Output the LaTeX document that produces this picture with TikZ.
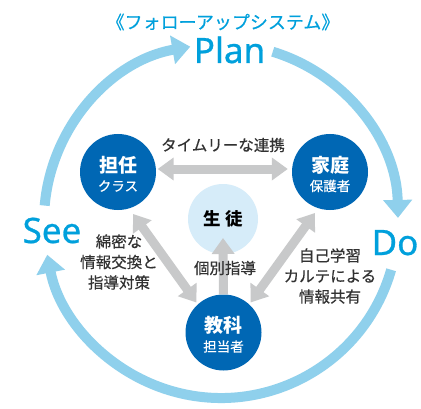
\documentclass[tikz,border=0pt]{standalone}
\usepackage{fontspec}
\setmainfont{Noto Sans}
\newfontfamily\jp{Noto Sans CJK JP}
\newfontfamily\pdcsfont[FakeBold=0.8]{Noto Sans}
\newfontfamily\jpmed[FakeBold=0.4]{Noto Sans CJK JP}
\usetikzlibrary{arrows.meta}
\definecolor{ringC}{RGB}{143,208,236}
\definecolor{cyanT}{RGB}{0,160,220}
\definecolor{darkB}{RGB}{0,103,180}
\definecolor{stuB}{RGB}{214,236,249}
\definecolor{grayA}{RGB}{200,201,202}
\definecolor{txtC}{RGB}{50,50,50}
\tikzset{gtip/.tip={Triangle[length=16pt,width=22pt]},
  rtip/.tip={Triangle[length=18pt,width=28pt]}}
\begin{document}
\begin{tikzpicture}[x=1pt,y=1pt,
  ringarc/.style={draw=ringC,line width=10pt},
  ringhead/.style={-{rtip}},
  darkcirc/.style={circle,fill=darkB,minimum size=76pt,inner sep=0pt},
  stucirc/.style={circle,fill=stuB,minimum size=70pt,inner sep=0pt},
  grayline/.style={draw=grayA,line width=9pt},
  pdcs/.style={text=cyanT,font=\pdcsfont\fontsize{35}{35}\selectfont,anchor=base},
  mainlab/.style={text=white,font=\jp\bfseries\fontsize{19}{19}\selectfont},
  sublab/.style={text=white,font=\jpmed\fontsize{13.5}{13.5}\selectfont},
  note/.style={text=txtC,font=\jpmed\fontsize{15.5}{20.5}\selectfont,align=center}
]
\useasboundingbox (0,0) rectangle (421,408);
\fill[white] (0,0) rectangle (421,408);
\coordinate (C) at (221,187);
% ring
\draw[ringarc,ringhead] ([shift={(-16:177)}]C) arc[start angle=-16,end angle=-169,radius=177];
\draw[ringarc,ringhead] ([shift={(175:177)}]C) arc[start angle=175,end angle=100,radius=177];
\draw[ringarc,ringhead] ([shift={(73:177)}]C) arc[start angle=73,end angle=1,radius=177];
% circles
\node[darkcirc] (t) at (118,236) {};
\node[darkcirc] (h) at (330,236) {};
\node[darkcirc] (k) at (223.5,75.5) {};
\node[stucirc] (s) at (223,189) {};
% gray arrows
\draw[grayline,{gtip}-{gtip}] ([yshift=3pt,xshift=1.5pt]t.east) -- ([yshift=3pt,xshift=-4pt]h.west);
\draw[grayline,{gtip}-{gtip}] ([shift={(15pt,-42pt)}]t.center) -- ([shift={(-27pt,30pt)}]k.center);
\draw[grayline,{gtip}-{gtip}] ([shift={(-15pt,-41pt)}]h.center) -- ([shift={(27pt,30pt)}]k.center);
\draw[grayline,-{gtip}] (k.north) -- ([yshift=-19pt]s.center);
% labels
\node[mainlab] (tm) at ([yshift=7pt]t.center) {担任};
\node[sublab] (ts) at ([yshift=-14pt]t.center) {クラス};
\node[mainlab] (hm) at ([yshift=7pt]h.center) {家庭};
\node[sublab] (hs) at ([yshift=-14pt]h.center) {保護者};
\node[mainlab] (km) at ([yshift=7pt]k.center) {教科};
\node[sublab] (ks) at ([yshift=-14pt]k.center) {担当者};
\node[text=black,font=\jp\bfseries\fontsize{17.5}{17.5}\selectfont] (sm) at (s.center) {生\hspace{5pt}徒};
% texts
\node[text=cyanT,font=\jpmed\fontsize{18}{18}\selectfont] (title) at (223,386) {《フォローアップシステム》};
\node[pdcs] (plan) at (229.5,345) {Plan};
\node[pdcs] (see) at (52,165) {See};
\node[pdcs] (do) at (395,153) {Do};
\node[note] (n1) at (223,263) {タイムリーな連携};
\node[note] (n2) at (119,146) {綿密な\\情報交換と\\指導対策};
\node[note] (n3) at (225,140) {個別指導};
\node[note] (n4) at (330,132) {自己学習\\カルテによる\\情報共有};
\end{tikzpicture}
\end{document}
